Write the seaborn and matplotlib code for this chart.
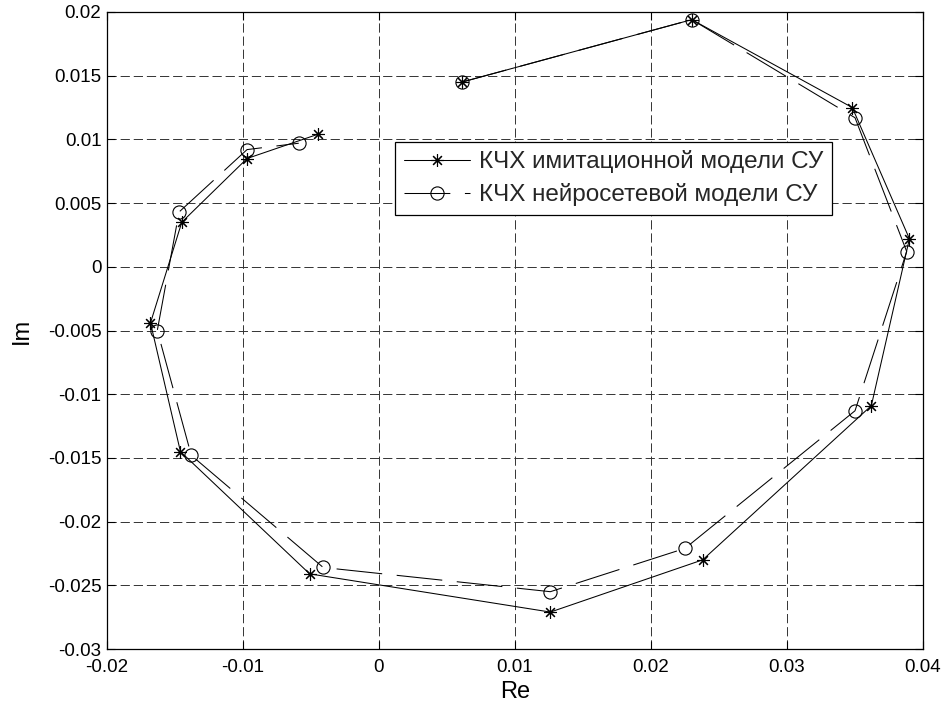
import numpy as np
import pandas as pd
import matplotlib
matplotlib.use("Agg")
import matplotlib.pyplot as plt
import seaborn as sns

# Data (Nyquist-type frequency response)
re_sim = [0.0061, 0.0230, 0.0348, 0.0390, 0.0362, 0.0238, 0.0126, -0.0051, -0.0146, -0.0168, -0.0145, -0.0097, -0.0045]
im_sim = [0.0145, 0.0194, 0.0125, 0.0022, -0.0109, -0.0230, -0.0271, -0.0241, -0.0145, -0.0044, 0.0035, 0.0085, 0.0104]

re_nn = [0.0061, 0.0230, 0.0350, 0.0388, 0.0350, 0.0225, 0.0126, -0.0041, -0.0138, -0.0163, -0.0147, -0.0097, -0.0059]
im_nn = [0.0145, 0.0194, 0.0117, 0.0012, -0.0113, -0.0221, -0.0255, -0.0236, -0.0148, -0.0050, 0.0043, 0.0092, 0.0097]

label_sim = "КЧХ имитационной модели СУ"
label_nn = "КЧХ нейросетевой модели СУ"

x_ticks = [-0.02, -0.01, 0, 0.01, 0.02, 0.03, 0.04]
x_tick_labels = ["-0.02", "-0.01", "0", "0.01", "0.02", "0.03", "0.04"]
y_ticks = [-0.03, -0.025, -0.02, -0.015, -0.01, -0.005, 0, 0.005, 0.01, 0.015, 0.02]
y_tick_labels = ["-0.03", "-0.025", "-0.02", "-0.015", "-0.01", "-0.005", "0", "0.005", "0.01", "0.015", "0.02"]

sns.set_theme(style="white")
plt.rcParams["font.family"] = ["Liberation Sans", "DejaVu Sans"]

fig = plt.figure(figsize=(9.5, 7.14), dpi=100)
ax = fig.add_axes([0.1126, 0.0910, 0.8590, 0.8922])

df_sim = pd.DataFrame({"Re": re_sim, "Im": im_sim})
df_nn = pd.DataFrame({"Re": re_nn, "Im": im_nn})

sns.lineplot(data=df_sim, x="Re", y="Im", sort=False, estimator=None, ax=ax,
             color="black", linewidth=0.75, marker=(8, 2, 0), markersize=9,
             markeredgecolor="black", markeredgewidth=0.8, label=label_sim)
sns.lineplot(data=df_nn, x="Re", y="Im", sort=False, estimator=None, ax=ax,
             color="black", linewidth=0.75, linestyle=(0, (44, 14)), marker="o",
             markersize=9.5, markerfacecolor="none", markeredgecolor="black",
             markeredgewidth=0.8, label=label_nn)

ax.set_xlim(-0.02, 0.04)
ax.set_ylim(-0.03, 0.02)
ax.set_xticks(x_ticks)
ax.set_xticklabels(x_tick_labels)
ax.set_yticks(y_ticks)
ax.set_yticklabels(y_tick_labels)

ax.grid(True, color="0.2", linestyle=(0, (9.5, 4)), linewidth=0.7)
ax.set_axisbelow(True)

for s in ax.spines.values():
    s.set_visible(True)
    s.set_color("black")
    s.set_linewidth(0.9)

ax.tick_params(axis="both", which="both", direction="in", length=6, width=0.8,
               colors="black", labelsize=13.5, top=True, right=True,
               bottom=True, left=True)
ax.tick_params(axis="x", pad=7.5)
ax.tick_params(axis="y", pad=4)

ax.set_xlabel("Re", fontsize=17, color="black", labelpad=3)
ax.set_ylabel("Im", fontsize=17, color="black", labelpad=11)

leg = ax.legend(loc="upper left", bbox_to_anchor=(0.353, 0.796), borderaxespad=0,
                fontsize=17.5, frameon=True, fancybox=False, shadow=False,
                framealpha=1, edgecolor="black", handlelength=2.75,
                handletextpad=0.35, borderpad=0.35, labelspacing=0.4)
leg.get_frame().set_linewidth(0.9)

fig.savefig("out.png", dpi=100, facecolor="white")
